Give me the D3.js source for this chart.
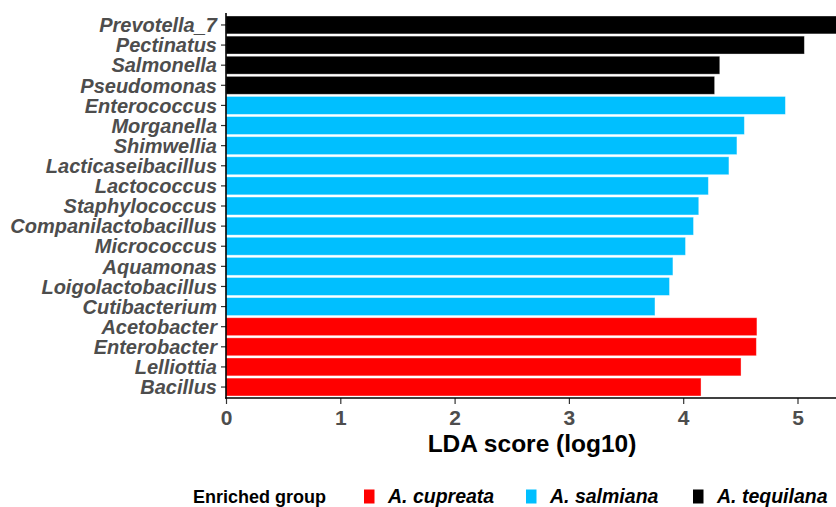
<!DOCTYPE html>
<html>
<head>
<meta charset="utf-8">
<script src="https://cdn.jsdelivr.net/npm/d3@7/dist/d3.min.js"></script>
<style>
  html, body { margin: 0; padding: 0; background: #fff; }
  svg { display: block; font-family: "Liberation Sans", Arial, Helvetica, sans-serif; }
</style>
</head>
<body>
<svg id="chart" width="836" height="507"></svg>
<script>
// LEfSe-style LDA scores per genus, ordered top to bottom
const genera = [
  "Prevotella_7", "Pectinatus", "Salmonella", "Pseudomonas",
  "Enterococcus", "Morganella", "Shimwellia", "Lacticaseibacillus",
  "Lactococcus", "Staphylococcus", "Companilactobacillus", "Micrococcus",
  "Aquamonas", "Loigolactobacillus", "Cutibacterium",
  "Acetobacter", "Enterobacter", "Lelliottia", "Bacillus"
];
const ldaScores = [
  5.45, 5.06, 4.32, 4.275,
  4.894, 4.535, 4.47, 4.40,
  4.22, 4.136, 4.09, 4.02,
  3.91, 3.88, 3.753,
  4.645, 4.64, 4.506, 4.156
];
const enrichedIn = [
  "A. tequilana", "A. tequilana", "A. tequilana", "A. tequilana",
  "A. salmiana", "A. salmiana", "A. salmiana", "A. salmiana",
  "A. salmiana", "A. salmiana", "A. salmiana", "A. salmiana",
  "A. salmiana", "A. salmiana", "A. salmiana",
  "A. cupreata", "A. cupreata", "A. cupreata", "A. cupreata"
];
const groups = ["A. cupreata", "A. salmiana", "A. tequilana"];
const groupColors = ["#FF0000", "#00BFFF", "#000000"];
const xTicks = [0, 1, 2, 3, 4, 5];

const rows = genera.map((g, i) => ({ genus: g, score: ldaScores[i], group: enrichedIn[i] }));

const svg = d3.select("#chart");
const panel = { left: 226, right: 837.5, top: 13, bottom: 398 };

const x = d3.scaleLinear().domain([0, 5.35]).range([panel.left, panel.right]);
const y = d3.scaleBand().domain(genera).range([14.9, 397.1]).paddingInner(0.11).paddingOuter(0.055);
const color = d3.scaleOrdinal().domain(groups).range(groupColors);

// bars
svg.append("g").selectAll("rect").data(rows).join("rect")
  .attr("x", x(0))
  .attr("y", d => y(d.genus))
  .attr("width", d => x(d.score) - x(0))
  .attr("height", y.bandwidth())
  .attr("fill", d => color(d.group))
  .attr("stroke", "rgba(255,255,255,0.45)")
  .attr("stroke-width", 0.8);

// y axis
const yAxis = svg.append("g")
  .attr("transform", `translate(${panel.left},0)`)
  .call(d3.axisLeft(y).tickSize(5).tickPadding(4));
yAxis.select(".domain").remove();
yAxis.selectAll(".tick line").attr("stroke", "#333").attr("stroke-width", 1.2);
yAxis.selectAll(".tick text")
  .attr("fill", "#4D4D4D")
  .attr("font-size", "20px")
  .attr("font-weight", "bold")
  .attr("font-style", "italic")
  .attr("dy", "0.36em");

svg.append("line")
  .attr("x1", panel.left).attr("x2", panel.left)
  .attr("y1", panel.top).attr("y2", panel.bottom + 0.8)
  .attr("stroke", "#000").attr("stroke-width", 1.6);

// x axis
const xAxis = svg.append("g")
  .attr("transform", `translate(0,${panel.bottom})`)
  .call(d3.axisBottom(x).tickValues(xTicks).tickFormat(d3.format("d")).tickSize(6).tickPadding(6));
xAxis.select(".domain").remove();
xAxis.selectAll(".tick line").attr("stroke", "#333").attr("stroke-width", 1.2);
xAxis.selectAll(".tick text")
  .attr("fill", "#4D4D4D")
  .attr("font-size", "21px")
  .attr("font-weight", "bold");

svg.append("line")
  .attr("x1", panel.left - 0.8).attr("x2", 836)
  .attr("y1", panel.bottom).attr("y2", panel.bottom)
  .attr("stroke", "#000").attr("stroke-width", 1.6);

// axis title
svg.append("text")
  .attr("x", (panel.left + 836) / 2 + 1)
  .attr("y", 451.5)
  .attr("text-anchor", "middle")
  .attr("font-size", "24.5px")
  .attr("font-weight", "bold")
  .attr("fill", "#000")
  .text("LDA score (log10)");

// legend
const legend = svg.append("g");
legend.append("text")
  .attr("x", 193).attr("y", 502.5)
  .attr("font-size", "18px")
  .attr("font-weight", "bold")
  .attr("fill", "#000")
  .text("Enriched group");

const keyX = [364, 526, 693];
const items = legend.selectAll("g.item").data(groups).join("g")
  .attr("class", "item")
  .attr("transform", (d, i) => `translate(${keyX[i]},0)`);
items.append("rect")
  .attr("x", 0).attr("y", 489.5)
  .attr("width", 10.5).attr("height", 14)
  .attr("fill", d => color(d));
items.append("text")
  .attr("x", 24).attr("y", 502.5)
  .attr("font-size", "19.5px")
  .attr("font-weight", "bold")
  .attr("font-style", "italic")
  .attr("fill", "#000")
  .text(d => d);
</script>
</body>
</html>
